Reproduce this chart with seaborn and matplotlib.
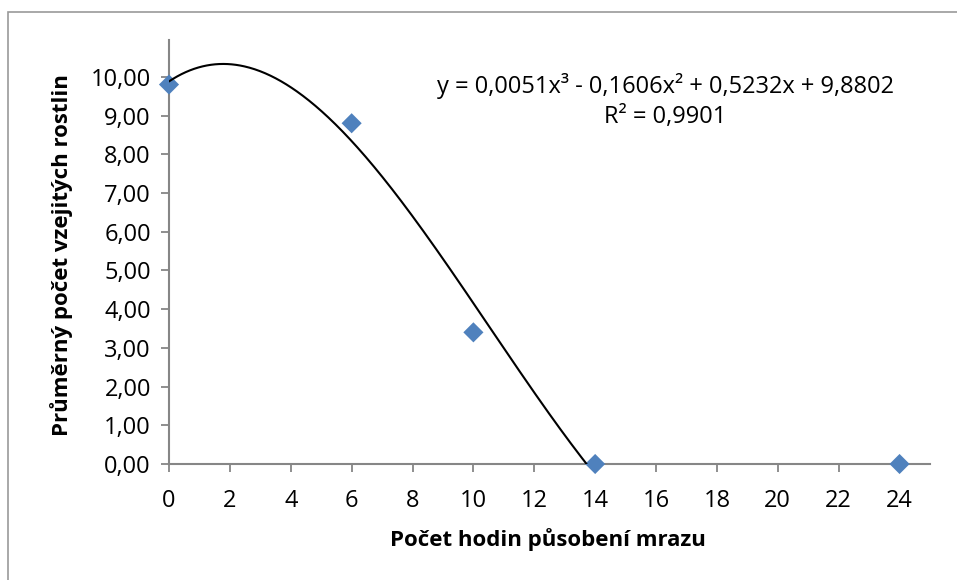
import numpy as np
import pandas as pd
import seaborn as sns
import matplotlib.pyplot as plt
from matplotlib.patches import Rectangle

# Measured data: hours of frost exposure vs. mean number of emerged plants
hours = [0, 6, 10, 14, 24]
plants = [9.8, 8.8, 3.4, 0.0, 0.0]

# Cubic trendline coefficients (highest power first) and its fit quality
trend_coef = [0.0051, -0.1606, 0.5232, 9.8802]
r_squared = 0.9901

x_ticks = list(range(0, 25, 2))
y_ticks = list(range(0, 11))

sns.set_theme(style="white")
plt.rcParams["font.family"] = ["Open Sans", "DejaVu Sans"]
plt.rcParams["text.color"] = "black"
plt.rcParams["axes.labelcolor"] = "black"

AXIS_GREY = "#868686"
MARKER_BLUE = "#4F81BD"

fig = plt.figure(figsize=(9.57, 5.8), dpi=100)
ax = fig.add_axes([169 / 957, 1 - 464 / 580, 761 / 957, 424 / 580])

# Outer chart frame
fig.patches.append(Rectangle((8 / 957, -0.1), 1.0, (1 - 12 / 580) + 0.1,
                             transform=fig.transFigure, fill=False,
                             ec="#9a9a9a", lw=1.2))

df = pd.DataFrame({"hours": hours, "plants": plants})
sns.scatterplot(data=df, x="hours", y="plants", marker="D", s=105,
                color=MARKER_BLUE, edgecolor="none", ax=ax, clip_on=False,
                zorder=3)

# Trendline drawn from x = 0 until it first reaches zero
roots = np.roots(trend_coef)
pos_roots = sorted(r.real for r in roots if abs(r.imag) < 1e-9 and r.real > 0)
x_end = pos_roots[0]
xs = np.linspace(0, x_end, 400)
ys = np.polyval(trend_coef, xs)
sns.lineplot(x=xs, y=ys, color="black", lw=1.5, sort=False, ax=ax, zorder=4)

ax.set_xlim(0, 25)
ax.set_ylim(0, 10.95)
ax.set_xticks(x_ticks)
ax.set_xticklabels([str(t) for t in x_ticks])
ax.set_yticks(y_ticks)
ax.set_yticklabels([f"{t:.2f}".replace(".", ",") for t in y_ticks])

for side in ("top", "right"):
    ax.spines[side].set_visible(False)
for side in ("left", "bottom"):
    ax.spines[side].set_color(AXIS_GREY)
    ax.spines[side].set_linewidth(1.5)

ax.tick_params(axis="both", direction="out", length=6, width=1.3,
               color=AXIS_GREY, labelsize=17, labelcolor="black")
ax.tick_params(axis="y", pad=7)
ax.tick_params(axis="x", pad=12)
ax.tick_params(axis="both", which="both", bottom=True, left=True)

ax.set_xlabel("Počet hodin působení mrazu", fontsize=16, fontweight="bold",
              va="center", color="black")
ax.xaxis.set_label_coords(0.498, -0.179)
ax.set_ylabel("Průměrný počet vzejitých rostlin", fontsize=16,
              fontweight="bold", va="center", color="black")
ax.yaxis.set_label_coords(-0.1406, 0.493)

eq_text = "y = 0,0051x³ - 0,1606x² + 0,5232x + 9,8802"
ax.text(16.3, 9.77, eq_text, ha="center", va="center", fontsize=17,
        color="black")
ax.text(16.3, 8.97, f"R² = {r_squared:.4f}".replace(".", ","),
        ha="center", va="center", fontsize=17, color="black")

fig.savefig("out.png", dpi=100, facecolor="white")
